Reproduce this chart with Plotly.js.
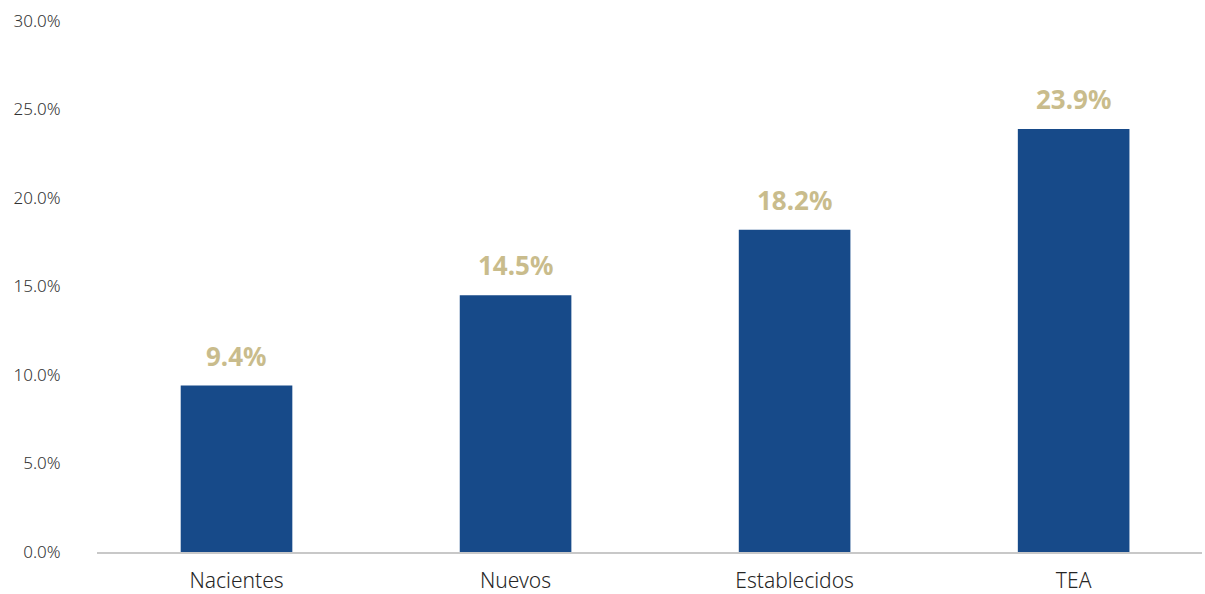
<!DOCTYPE html>
<html>
<head>
<meta charset="utf-8">
<script src="https://cdn.plot.ly/plotly-3.0.1.min.js"></script>
<style>html,body{margin:0;padding:0;background:#fff;}#chart{width:1205px;height:594px;}</style>
</head>
<body>
<div id="chart"></div>
<script>
const categories = ["Nacientes", "Nuevos", "Establecidos", "TEA"];
const values = [9.4, 14.5, 18.2, 23.9];
const yTicks = [0, 5, 10, 15, 20, 25, 30];

const barColor = "#174A89";
const labelColor = "#C9BC8C";
const fontFam = "'Noto Sans', Lato, sans-serif";

const trace = {
  type: "bar",
  x: categories,
  y: values,
  marker: {color: barColor},
  hoverinfo: "none",
  textposition: "none"
};

const annotations = categories.map((c, i) => ({
  x: c, y: values[i], xref: "x", yref: "y",
  text: values[i].toFixed(1) + "%",
  showarrow: false, yanchor: "bottom", yshift: 10,
  font: {family: fontFam, size: 26, color: labelColor, weight: 700}
}));

const layout = {
  width: 1205, height: 594,
  margin: {l: 97, r: 3, t: 21, b: 42},
  paper_bgcolor: "#fff", plot_bgcolor: "#fff",
  bargap: 0.6,
  showlegend: false,
  xaxis: {
    type: "category",
    range: [-0.5, 3.46],
    showline: true, linecolor: "#c8c8c8", linewidth: 2,
    ticks: "outside", ticklen: 9, tickcolor: "rgba(0,0,0,0)",
    tickfont: {family: fontFam, size: 21, color: "#262626", weight: 300},
    showgrid: false, zeroline: false
  },
  yaxis: {
    range: [0, 30],
    tickvals: yTicks,
    ticktext: yTicks.map(v => v.toFixed(1) + "%"),
    showgrid: false, zeroline: false, showline: false,
    ticks: "outside", ticklen: 32, tickcolor: "rgba(0,0,0,0)",
    tickfont: {family: fontFam, size: 17, color: "#333333", weight: 300}
  },
  annotations: annotations
};

Plotly.newPlot("chart", [trace], layout, {displayModeBar: false, staticPlot: true});
</script>
</body>
</html>
